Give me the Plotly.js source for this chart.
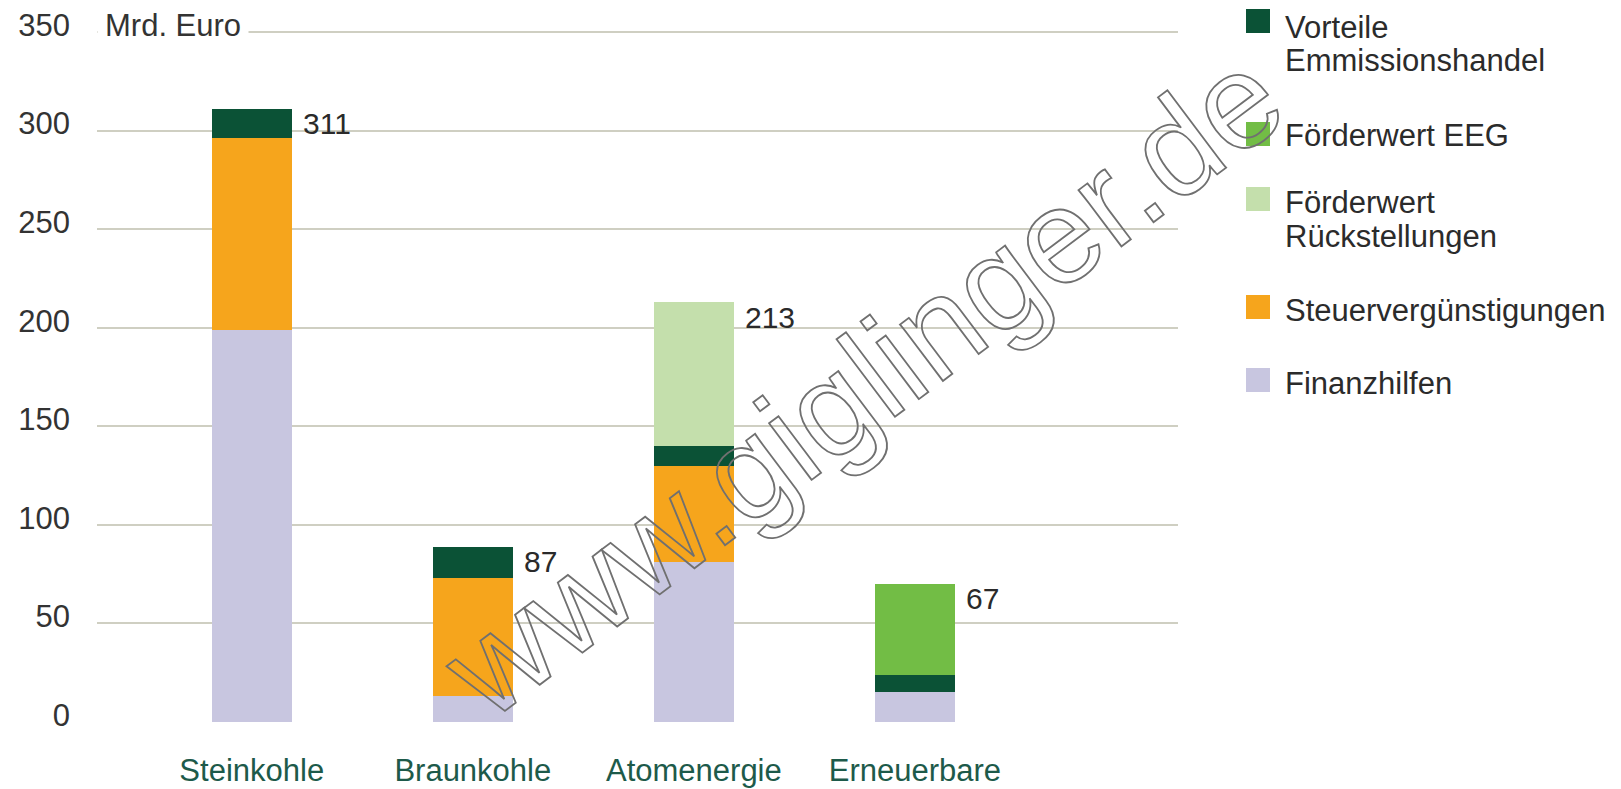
<!DOCTYPE html>
<html>
<head>
<meta charset="utf-8">
<script src="https://cdn.plot.ly/plotly-3.0.1.min.js"></script>
<style>
  html, body { margin: 0; padding: 0; background: #ffffff; }
  #chart { width: 1621px; height: 789px; }
</style>
</head>
<body>
<div id="chart"></div>
<script>
// ---- data ----
const categories = ['Steinkohle', 'Braunkohle', 'Atomenergie', 'Erneuerbare'];
const finanzhilfen = [199, 13, 81, 15];
const steuerverguenstigungen = [97, 60, 49, 0];
const vorteileEmissionshandel = [15, 16, 10, 9];
const foerderwertRueckstellungen = [0, 0, 73, 0];
const foerderwertEEG = [0, 0, 0, 46];
const totals = [311, 87, 213, 67];
const yTickValues = [0, 50, 100, 150, 200, 250, 300, 350];
const unitLabel = 'Mrd. Euro';
const watermarkText = 'www.giglinger.de';

// series in stacking order (bottom -> top)
const seriesNames = ['Finanzhilfen', 'Steuervergünstigungen', 'Vorteile Emmissionshandel', 'Förderwert Rückstellungen', 'Förderwert EEG'];
const seriesValues = [finanzhilfen, steuerverguenstigungen, vorteileEmissionshandel, foerderwertRueckstellungen, foerderwertEEG];
const seriesColors = ['#c8c6e0', '#f6a51c', '#0b5236', '#c4dfac', '#72bd45'];
// legend order (top -> bottom) with line breaks
const legendOrder = [2, 4, 3, 1, 0];
const legendLabels = {
  2: ['Vorteile', 'Emmissionshandel'],
  4: ['Förderwert EEG'],
  3: ['Förderwert', 'Rückstellungen'],
  1: ['Steuervergünstigungen'],
  0: ['Finanzhilfen']
};

// ---- layout geometry ----
const W = 1621, H = 789;
const yMin = -0.5, yMax = 353;
const pxPerUnit = 1.9715;
const mL = 97, mR = 443, mB = 66;
const mT = Math.round(H - mB - (yMax - yMin) * pxPerUnit);
const pw = W - mL - mR, ph = H - mT - mB;
const px = x => (x - mL) / pw;
const py = y => (H - mB - y) / ph;
const FONT = 'Liberation Sans, Arial, Helvetica, sans-serif';

const traces = seriesNames.map((name, i) => ({
  type: 'bar',
  name: name,
  x: categories,
  y: seriesValues[i],
  width: 0.36,
  marker: { color: seriesColors[i], line: { width: 0 } },
  hoverinfo: 'name+y',
  showlegend: false
}));

const stackTops = categories.map((c, j) => seriesValues.reduce((s, arr) => s + arr[j], 0));

const annotations = [];
const shapes = [];

// total labels
categories.forEach((c, j) => {
  annotations.push({
    x: c, y: stackTops[j], xref: 'x', yref: 'y',
    text: String(totals[j]), showarrow: false,
    xanchor: 'left', yanchor: 'middle', xshift: 49, yshift: -15,
    font: { family: FONT, size: 30, color: '#2a2a2a' }
  });
});

// unit label
annotations.push({
  x: 0, y: 350, xref: 'paper', yref: 'y',
  text: unitLabel, showarrow: false,
  xanchor: 'left', yanchor: 'middle', yshift: 6,
  bgcolor: '#ffffff', borderpad: 7,
  font: { family: FONT, size: 31, color: '#333333' }
});

// custom legend
const sqTop = [9, 122, 187, 295, 368];
const txtCenter = [27, 135, 202, 310, 383];
legendOrder.forEach((si, k) => {
  shapes.push({
    type: 'rect', xref: 'paper', yref: 'paper',
    x0: px(1246), x1: px(1270), y0: py(sqTop[k]), y1: py(sqTop[k] + 24),
    fillcolor: seriesColors[si], line: { width: 0 }
  });
  legendLabels[si].forEach((line, li) => {
    annotations.push({
      x: px(1283), y: py(txtCenter[k] + li * 34), xref: 'paper', yref: 'paper',
      text: line, showarrow: false, xanchor: 'left', yanchor: 'middle',
      font: { family: FONT, size: 31, color: '#2b2b2b' }
    });
  });
});

// watermark
annotations.push({
  x: px(862), y: py(383), xref: 'paper', yref: 'paper',
  text: watermarkText, showarrow: false, textangle: -37,
  xanchor: 'center', yanchor: 'middle',
  font: { family: FONT, size: 134, color: '#707070' }
});

const layout = {
  width: W, height: H,
  margin: { l: mL, r: mR, t: mT, b: mB, pad: 0 },
  paper_bgcolor: '#ffffff', plot_bgcolor: '#ffffff',
  barmode: 'stack',
  showlegend: false,
  font: { family: FONT, size: 31, color: '#333333' },
  xaxis: {
    type: 'category',
    range: [-0.70, 4.19],
    showgrid: false, zeroline: false, showline: false,
    ticks: '',
    ticklabelstandoff: 26,
    tickfont: { family: FONT, size: 31, color: '#1d5a4a' },
    fixedrange: true
  },
  yaxis: {
    range: [yMin, yMax],
    tickvals: yTickValues,
    ticktext: yTickValues.map(String),
    showgrid: true, gridcolor: '#cfcfc2', gridwidth: 2,
    zeroline: false, showline: false,
    ticks: '',
    ticklabelstandoff: 26,
    ticklabelshift: -7,
    tickfont: { family: FONT, size: 31, color: '#333333' },
    fixedrange: true
  },
  annotations: annotations,
  shapes: shapes
};

Plotly.newPlot('chart', traces, layout, { displayModeBar: false, staticPlot: true }).then(gd => {
  // outline-style watermark
  gd.querySelectorAll('.annotation-text').forEach(t => {
    if (t.textContent === watermarkText) {
      t.style.fill = 'none';
      t.style.stroke = '#707070';
      t.style.strokeWidth = '1.8px';
    }
  });
});
</script>
</body>
</html>
